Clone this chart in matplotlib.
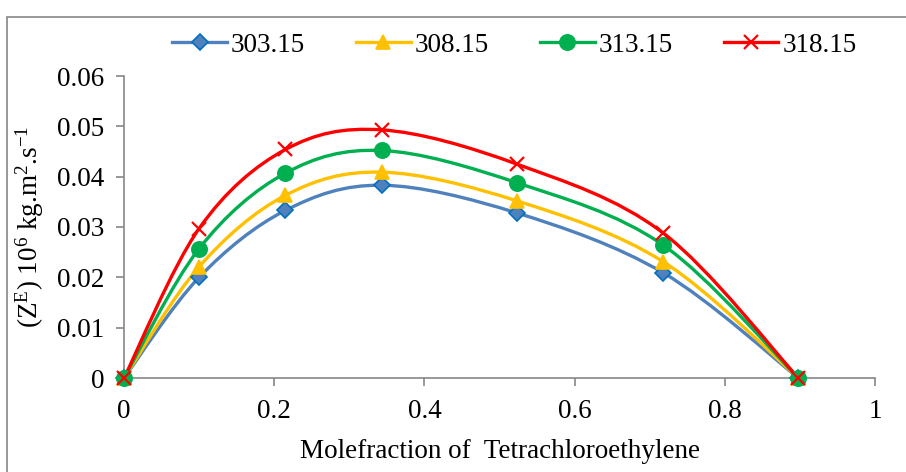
import numpy as np
import matplotlib
matplotlib.use("Agg")
import matplotlib.pyplot as plt
from matplotlib.path import Path
from matplotlib.patches import PathPatch, Rectangle
from matplotlib.lines import Line2D
from matplotlib import font_manager

serif_name = 'Liberation Serif'
names = {f.name for f in font_manager.fontManager.ttflist}
if serif_name not in names:
    serif_name = 'DejaVu Serif'
plt.rcParams['font.family'] = 'serif'
plt.rcParams['font.serif'] = [serif_name, 'DejaVu Serif']
plt.rcParams['mathtext.fontset'] = 'custom'
plt.rcParams['mathtext.rm'] = serif_name
plt.rcParams['mathtext.it'] = serif_name

x = [0, 0.1, 0.215, 0.343, 0.523, 0.718, 0.898]
labels = ['303.15', '308.15', '313.15', '318.15']
y303 = [0, 0.0200, 0.0333, 0.0383, 0.0328, 0.0209, 0]
y308 = [0, 0.0221, 0.0363, 0.0409, 0.0352, 0.0231, 0]
y313 = [0, 0.0257, 0.0407, 0.0452, 0.0388, 0.0264, 0]
y318 = [0, 0.0297, 0.0454, 0.0493, 0.0425, 0.0288, 0]
series = [y303, y308, y313, y318]

colors = ['#4F81BD', '#FFC000', '#00B050', '#FF0000']
edgecolors = ['#0070C0', '#FFC000', '#00B050', '#FF0000']
markers = ['D', '^', 'o', 'x']
msizes = [8, 10, 11, 10]

def smooth_path(xs, ys):
    P = np.column_stack([xs, ys]).astype(float)
    n = len(P)
    verts = [P[0]]
    codes = [Path.MOVETO]
    for i in range(n - 1):
        p0 = P[i - 1] if i > 0 else P[i]
        p1 = P[i]
        p2 = P[i + 1]
        p3 = P[i + 2] if i + 2 < n else P[i + 1]
        c1 = p1 + (p2 - p0) / 6.0
        c2 = p2 - (p3 - p1) / 6.0
        verts += [c1, c2, p2]
        codes += [Path.CURVE4] * 3
    return Path(verts, codes)

FS = 19.5
fig = plt.figure(figsize=(9.06, 4.72), dpi=100)
ax = fig.add_axes([124/906, 1-378/472, (875-124)/906, (378-76)/472])

handles = []
for ys, c, ec, m, ms, lab in zip(series, colors, edgecolors, markers, msizes, labels):
    patch = PathPatch(smooth_path(x, ys), facecolor='none', edgecolor=c, lw=2.4, zorder=3, clip_on=False)
    ax.add_patch(patch)
    if m == 'x':
        kw = dict(marker=m, ms=ms, mew=1.6, color=c)
    else:
        kw = dict(marker=m, ms=ms, mfc=c, mec=ec, mew=1.2, color=c)
    ax.plot(x, ys, ls='none', zorder=4, clip_on=False, **kw)
    handles.append(Line2D([], [], lw=2.4, **kw))

ax.set_xlim(0, 1)
ax.set_ylim(0, 0.06)
ax.set_xticks([0, 0.2, 0.4, 0.6, 0.8, 1])
ax.set_xticklabels(['0', '0.2', '0.4', '0.6', '0.8', '1'])
ax.set_yticks([0, 0.01, 0.02, 0.03, 0.04, 0.05, 0.06])
ax.set_yticklabels(['0', '0.01', '0.02', '0.03', '0.04', '0.05', '0.06'])
for s in ['top', 'right']:
    ax.spines[s].set_visible(False)
for s in ['left', 'bottom']:
    ax.spines[s].set_color('#868686')
    ax.spines[s].set_linewidth(1.2)
ax.tick_params(axis='both', direction='out', length=6, color='#868686', width=1.2,
               labelsize=FS, labelcolor='black')
ax.tick_params(axis='x', pad=9)
ax.tick_params(axis='y', pad=8)
ax.set_xlabel('Molefraction of  Tetrachloroethylene', fontsize=FS, labelpad=11)
ax.set_ylabel(r'(Z$^{\mathrm{E}}$) 10$^{6}$ kg.m$^{2}$.s$^{-1}$', fontsize=FS, labelpad=8)

fig.legend(handles=handles, labels=labels, loc='center', bbox_to_anchor=(0.568, 1-45/472),
           ncol=4, frameon=False, fontsize=FS, handlelength=2.0, handletextpad=0.15,
           columnspacing=1.9)

fig.patches.append(Rectangle((7/906, -0.05), 1.2, 1-17/472+0.05, transform=fig.transFigure,
                             fill=False, edgecolor='#868686', lw=1.2))

fig.savefig('out.png', dpi=100)
